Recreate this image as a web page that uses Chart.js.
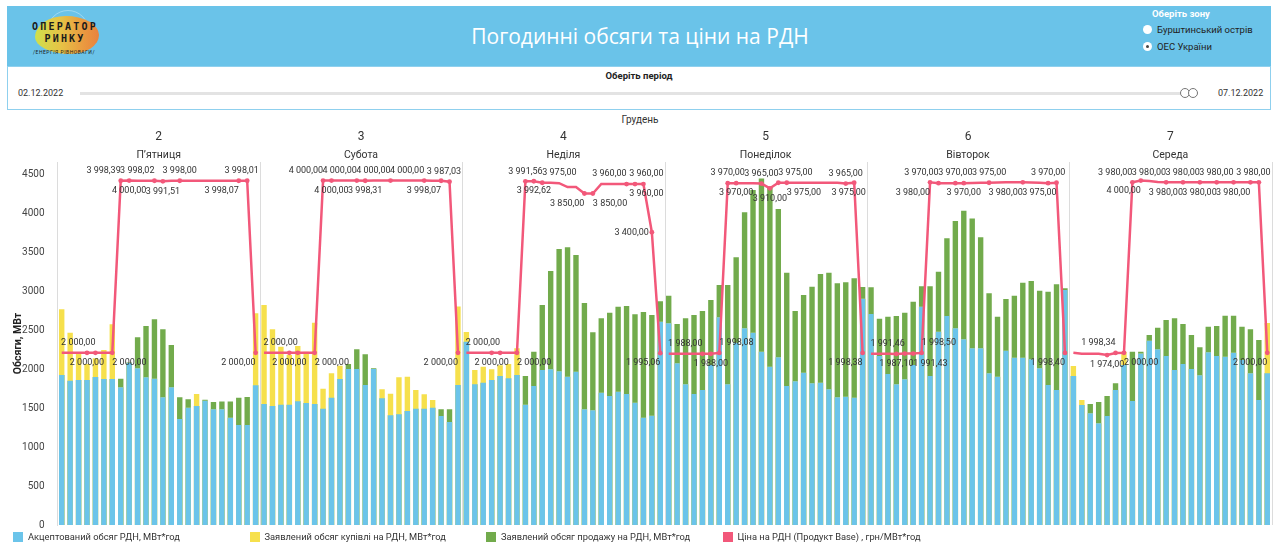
<!DOCTYPE html>
<html lang="uk">
<head>
<meta charset="utf-8">
<title>Погодинні обсяги та ціни на РДН</title>
<script src="https://cdn.jsdelivr.net/npm/chart.js@4.4.1/dist/chart.umd.min.js"></script>
<style>
  body { margin: 0; width: 1280px; height: 545px; overflow: hidden; background: #fff; position: relative;
         font-family: Roboto, "Noto Sans", sans-serif; color: #333; }
  .banner { position: absolute; left: 7px; top: 6px; width: 1264px; height: 60px; background: #6ac3e9; }
  .logo { position: absolute; left: 20px; top: 4px; width: 76px; height: 52px; }
  .logo .globe { position: absolute; left: 20px; top: 0; width: 40px; height: 40px; border-radius: 50%;
                 border: 1px solid rgba(255,255,255,0.35); }
  .logo .blob { position: absolute; left: 8px; top: 6px; width: 64px; height: 38px; border-radius: 48% 52% 45% 55% / 55% 50% 50% 45%;
                background: linear-gradient(90deg, #cfe04c 0%, #e6c346 40%, #ea9a40 75%, #e8823e 100%); }
  .logo .t1, .logo .t2 { position: absolute; left: 0; width: 76px; text-align: center; font-weight: bold;
                font-size: 10px; letter-spacing: 2.2px; color: #1b1b1b; font-family: "DejaVu Sans Mono", monospace; }
  .logo .t1 { top: 11px; } .logo .t2 { top: 23px; }
  .logo .t3 { position: absolute; left: 6px; top: 39px; font-size: 5px; color: #1b1b1b; letter-spacing: 0.5px; }
  .title { position: absolute; left: 0; width: 1280px; top: 22px; text-align: center; color: #fff;
           font-size: 21px; font-family: "Open Sans", sans-serif; }
  .zone { position: absolute; left: 1140px; top: 8px; font-size: 9.5px; }
  .zone .head { color: #fff; font-weight: bold; margin-left: 12px; }
  .zone .opt { position: relative; margin-top: 4px; height: 13px; line-height: 13px; padding-left: 17px; color: #222; }
  .zone .opt i { position: absolute; left: 3px; top: 2px; width: 9px; height: 9px; border-radius: 50%; background: #fff; }
  .zone .opt i.on::after { content: ""; position: absolute; left: 3px; top: 3px; width: 3px; height: 3px; border-radius: 50%; background: #444; }
  .period { position: absolute; left: 7px; top: 66px; width: 1262px; height: 42px; border: 1px solid #8fd0ee; background: #fff; }
  .period .head { position: absolute; left: 0; width: 100%; top: 3px; text-align: center; font-size: 9.5px; font-weight: bold; color: #222; }
  .period .d { position: absolute; top: 21px; font-size: 9px; color: #333; }
  .period .track { position: absolute; left: 72px; width: 1118px; top: 25px; height: 3px; background: #e3e3e3; }
  .period .knob { position: absolute; top: 21px; width: 8px; height: 8px; border: 1px solid #777; border-radius: 50%; background: #fff; }
  .month { position: absolute; left: 0; width: 1280px; top: 114px; text-align: center; font-size: 10px; color: #333; }
  #wrap { position: absolute; left: 0; top: 112px; width: 1280px; height: 433px; }
  #legend { position: absolute; left: 13px; top: 531px; display: flex; font-size: 9.3px; color: #333; }
  #legend div { width: 236.5px; display: flex; align-items: center; white-space: nowrap; }
  #legend span { display: inline-block; width: 10px; height: 10px; margin-right: 5px; }
</style>
</head>
<body>
<div class="banner">
  <div class="logo">
    <div class="globe"></div>
    <div class="blob"></div>
    <div class="t1">ОПЕРАТОР</div>
    <div class="t2">РИНКУ</div>
    <div class="t3">/ЕНЕРГІЯ РІВНОВАГИ/</div>
  </div>
</div>
<div class="title">Погодинні обсяги та ціни на РДН</div>
<div class="zone">
  <div class="head">Оберіть зону</div>
  <div class="opt"><i></i>Бурштинський острів</div>
  <div class="opt"><i class="on"></i>ОЕС України</div>
</div>
<div class="period">
  <div class="head">Оберіть період</div>
  <div class="d" style="left:10px">02.12.2022</div>
  <div class="track"></div>
  <div class="knob" style="left:1172px"></div>
  <div class="knob" style="left:1180px"></div>
  <div class="d" style="left:1210px">07.12.2022</div>
</div>
<div class="month">Грудень</div>
<div id="wrap"><canvas id="chart" width="1280" height="433"></canvas></div>
<div id="legend"></div>

<script>
// Days of the period (December 2022)
const days = ["2", "3", "4", "5", "6", "7"];
const weekdays = ["П’ятниця", "Субота", "Неділя", "Понеділок", "Вівторок", "Середа"];
const hours = [1, 2, 3, 4, 5, 6, 7, 8, 9, 10, 11, 12, 13, 14, 15, 16, 17, 18, 19, 20, 21, 22, 23, 24];
const volumeTicks = [0, 500, 1000, 1500, 2000, 2500, 3000, 3500, 4000, 4500];

// Accepted volume, MWh (one row per day)
const accepted = [
  1923, 1850, 1859, 1859, 1897, 1872, 1872, 1765, 2081, 2009, 1893, 1876, 1637, 1765, 1359, 1504, 1526, 1594, 1483, 1483, 1376, 1282, 1282, 1791,
  1551, 1526, 1542, 1542, 1586, 1564, 1551, 1491, 1632, 1872, 2000, 2000, 1795, 2000, 1624, 1406, 1419, 1461, 1491, 1491, 1504, 1397, 1320, 1795,
  2350, 1804, 1825, 1859, 1910, 1880, 1923, 1542, 1782, 1987, 1996, 1970, 1901, 1965, 1483, 1470, 1696, 1654, 1709, 1679, 1568, 1376, 1401, 2607,
  2586, 2073, 1804, 1679, 1731, 2051, 2663, 1804, 2338, 2521, 2466, 2222, 2030, 2150, 1782, 1842, 1953, 1817, 1825, 1740, 1637, 1645, 1632, 2900,
  2705, 2167, 1936, 1804, 1868, 2051, 2799, 1910, 2478, 2680, 2521, 2381, 2265, 2265, 1945, 1901, 2235, 2145, 2145, 2124, 2009, 1795, 1731, 3013,
  1910, 1538, 1432, 1304, 1397, 1731, 2051, 1590, 2200, 2363, 2252, 2167, 1987, 2064, 2000, 1919, 2214, 2167, 2158, 2209, 2115, 1945, 1603, 1945
];
// Declared purchase volume, MWh
const buyDeclared = [
  2765, 2465, 2201, 2064, 2137, 2244, 2573, 1765, 2081, 2009, 1893, 1876, 1637, 1765, 1359, 1504, 1679, 1594, 1483, 1483, 1376, 1282, 1282, 2714,
  2820, 2509, 2286, 2179, 2295, 2220, 2594, 1748, 1945, 2042, 2000, 2000, 1795, 2000, 1740, 1683, 1893, 1901, 1731, 1676, 1603, 1397, 1320, 2800,
  2474, 1987, 2030, 1996, 2047, 2064, 2265, 1542, 1782, 1987, 1996, 1970, 1901, 1965, 1483, 1470, 1696, 1654, 1709, 1679, 1568, 1376, 1401, 2607,
  2586, 2073, 1804, 1679, 1731, 2051, 2663, 1804, 2338, 2521, 2466, 2222, 2030, 2150, 1782, 1842, 1953, 1817, 1825, 1740, 1637, 1645, 1632, 2900,
  2705, 2167, 1936, 1804, 1868, 2051, 2799, 1910, 2478, 2680, 2521, 2381, 2265, 2265, 1945, 1901, 2235, 2145, 2145, 2124, 2009, 1795, 1731, 3013,
  2038, 1603, 1432, 1304, 1397, 1731, 2222, 1590, 2200, 2363, 2252, 2167, 1987, 2064, 2000, 1919, 2214, 2167, 2158, 2209, 2115, 1945, 1603, 2590
];
// Declared sale volume, MWh
const sellDeclared = [
  1923, 1850, 1859, 1859, 1897, 1872, 1872, 1876, 2085, 2406, 2551, 2637, 2509, 2308, 1637, 1611, 1526, 1605, 1577, 1583, 1583, 1632, 1640, 1791,
  1551, 1526, 1542, 1542, 1586, 1564, 1551, 1491, 1632, 1872, 2064, 2252, 2188, 2010, 1624, 1406, 1419, 1461, 1491, 1491, 1504, 1483, 1483, 1795,
  2350, 1804, 1825, 1859, 1910, 1880, 1923, 1910, 2222, 2820, 3256, 3538, 3560, 3461, 2846, 2470, 2650, 2722, 2799, 2808, 2701, 2731, 2692, 2870,
  2940, 2577, 2650, 2692, 2743, 2885, 3077, 3077, 3432, 4009, 4295, 4444, 4338, 4051, 3235, 2743, 2949, 3055, 3218, 3235, 3099, 3111, 3163, 3050,
  3047, 2645, 2671, 2680, 2722, 2863, 3060, 3060, 3248, 3675, 3897, 4030, 3930, 3689, 2970, 2671, 2897, 2940, 3107, 3128, 3004, 2991, 3086, 3034,
  1910, 1538, 1551, 1577, 1654, 1817, 2051, 2222, 2222, 2436, 2530, 2628, 2650, 2577, 2436, 2278, 2543, 2551, 2684, 2684, 2543, 2509, 2372, 1945
];
// Price, UAH/MWh (Base product)
const price = [
  2000, 2000, 2000, 2000, 2000, 2000, 2000, 3998.39, 4000, 3999, 3998, 3998.02, 3991.51, 3998, 3998, 3998, 3998, 3998, 3998, 3998, 3998, 3998.07, 3998.01, 2000,
  2000, 2000, 2000, 2000, 2000, 2000, 2000, 4000, 4000, 4000, 4000, 4000, 3998.31, 4000, 4000, 4000, 4000, 4000, 4000, 4000, 3999, 3998.07, 3987.03, 2000,
  2000, 2000, 2000, 2000, 2000, 2000, 2000, 3991.56, 3992.62, 3975, 3975, 3970, 3925, 3925, 3850, 3850, 3960, 3960, 3960, 3960, 3960, 3960, 3400, 1995.06,
  1990, 1990, 1990, 1990, 1988, 1988, 1998.08, 3970, 3970, 3970, 3968, 3965, 3910, 3975, 3975, 3975, 3975, 3975, 3975, 3975, 3975, 3965, 3975, 1998.38,
  1990, 1990, 1990, 1987.10, 1991.46, 1991.43, 1998.50, 3980, 3970, 3970, 3970, 3970, 3972, 3975, 3975, 3978, 3980, 3980, 3980, 3978, 3975, 3970, 3975, 1998.40,
  2000, 1990, 1990, 1990, 1974, 1998.34, 2000, 3980, 4000, 3995, 3985, 3980, 3980, 3980, 3980, 3980, 3980, 3980, 3980, 3980, 3980, 3980, 3980, 2000
];

// which price points get a label, per day: hour -> a/b/m (above/below/middle) + l/c/r (text left of, centred on, right of the point)
const labelPlacement = [
  { 4: "bc", 5: "al", 7: "br", 8: "al", 9: "bc", 12: "al", 13: "bc", 15: "ac", 22: "bl", 23: "ac", 24: "bl" },
  { 4: "bc", 5: "al", 7: "br", 8: "al", 9: "bc", 12: "al", 13: "bc", 16: "al", 20: "al", 22: "bl", 23: "ac", 24: "bl" },
  { 4: "bc", 5: "al", 7: "br", 8: "ac", 9: "bc", 10: "ar", 15: "bl", 16: "br", 20: "al", 21: "ar", 22: "br", 23: "ml", 24: "bl" },
  { 5: "al", 6: "bc", 7: "ar", 8: "ac", 9: "bc", 12: "ac", 13: "bc", 14: "ar", 15: "br", 22: "ac", 23: "bc", 24: "bl" },
  { 4: "bc", 5: "al", 6: "br", 7: "ar", 8: "bl", 9: "al", 11: "ac", 12: "bc", 15: "ac", 19: "bl", 22: "ac", 23: "bl", 24: "bl" },
  { 5: "bc", 6: "al", 7: "br", 8: "al", 9: "bl", 12: "al", 14: "bl", 16: "al", 18: "bl", 20: "al", 22: "bl", 23: "ac", 24: "bl" }
];

const labels = days.flatMap(d => hours.map(h => d + "-" + h));
const placeOf = i => labelPlacement[Math.floor(i / 24)][(i % 24) + 1] || "";

function fmtPrice(v) {
  const [int, dec] = v.toFixed(2).split(".");
  return int.replace(/\B(?=(\d{3})+(?!\d))/g, " ") + "," + dec;
}

Chart.defaults.font.family = "Roboto, 'Noto Sans', sans-serif";
Chart.defaults.color = "#444";

// separators, day headers and price labels
const panelsPlugin = {
  id: "panels",
  beforeDatasetsDraw(chart) {
    const { ctx, chartArea: area } = chart;
    const x = chart.scales.x;
    const half = (x.getPixelForValue(1) - x.getPixelForValue(0)) / 2;
    ctx.save();
    ctx.strokeStyle = "#dcdcdc";
    ctx.lineWidth = 1;
    ctx.fillStyle = "#333";
    ctx.textAlign = "center";
    ctx.textBaseline = "middle";
    days.forEach((d, i) => {
      const left = x.getPixelForValue(i * 24) - half;
      const right = x.getPixelForValue(i * 24 + 23) + half;
      const xr = Math.round(right) + 0.5;
      ctx.beginPath();
      ctx.moveTo(xr, area.top);
      ctx.lineTo(xr, area.bottom);
      ctx.stroke();
      ctx.font = "12px Roboto, sans-serif";
      ctx.fillText(d, (left + right) / 2, 25);
      ctx.font = "10.5px Roboto, sans-serif";
      ctx.fillText(weekdays[i], (left + right) / 2, 43);
    });
    ctx.restore();
  },
  afterDatasetsDraw(chart) {
    const { ctx } = chart;
    const x = chart.scales.x;
    const half = (x.getPixelForValue(1) - x.getPixelForValue(0)) / 2;
    const meta = chart.getDatasetMeta(3);
    ctx.save();
    ctx.font = "9px Roboto, sans-serif";
    ctx.fillStyle = "#333";
    ctx.textBaseline = "middle";
    ctx.textAlign = "left";
    meta.data.forEach((pt, i) => {
      const place = placeOf(i);
      if (!place) return;
      const txt = fmtPrice(price[i]);
      const w = ctx.measureText(txt).width;
      const day = Math.floor(i / 24);
      const pl = x.getPixelForValue(day * 24) - half;
      const pr = x.getPixelForValue(day * 24 + 23) + half;
      let tx = place[1] === "c" ? pt.x - w / 2 : place[1] === "l" ? pt.x - w : pt.x;
      let ty = pt.y;
      if (place[0] === "a") ty -= 10;
      else if (place[0] === "b") ty += 10;
      else tx -= 3;
      tx = Math.max(pl + 1, Math.min(pr - w - 1, tx));
      ctx.fillText(txt, tx, ty);
    });
    ctx.restore();
  }
};

const chart = new Chart(document.getElementById("chart"), {
  type: "bar",
  data: {
    labels: labels,
    datasets: [
      { label: "Акцептований обсяг РДН, МВт*год", data: accepted, backgroundColor: "#6bc4ea", order: 1 },
      { label: "Заявлений обсяг купівлі на РДН, МВт*год", data: buyDeclared, backgroundColor: "#f6e04c", order: 2 },
      { label: "Заявлений обсяг продажу на РДН, МВт*год", data: sellDeclared, backgroundColor: "#72ab4c", order: 3 },
      {
        type: "line",
        label: "Ціна на РДН (Продукт Base) , грн/МВт*год",
        data: price,
        yAxisID: "yPrice",
        borderColor: "#f2587a",
        backgroundColor: "#f2587a",
        borderWidth: 2.5,
        pointRadius: c => placeOf(c.dataIndex) ? 2.4 : 0,
        pointBorderWidth: 0,
        tension: 0,
        order: 0,
        segment: { borderColor: c => (c.p0DataIndex % 24 === 23 ? "transparent" : undefined) }
      }
    ]
  },
  options: {
    responsive: false,
    animation: false,
    layout: { padding: { top: 50, bottom: 20, right: 8.5, left: 0 } },
    datasets: { bar: { grouped: false, categoryPercentage: 1, barPercentage: 0.64 } },
    plugins: { legend: { display: false }, tooltip: { enabled: false } },
    scales: {
      x: { display: false },
      y: {
        min: 0,
        max: 4654,
        grid: { display: false },
        border: { display: true, color: "#dcdcdc" },
        afterBuildTicks: s => { s.ticks = volumeTicks.map(v => ({ value: v })); },
        ticks: { padding: 5, color: "#444", font: { size: 10 }, autoSkip: false, callback: v => String(v) },
        title: { display: true, text: "Обсяги, МВт", color: "#222", font: { size: 10.5, weight: "bold" }, padding: { top: 12, bottom: 0 } },
        afterFit: s => { s.width = 57.5; }
      },
      yPrice: { display: false, min: 0, max: 4216 }
    }
  },
  plugins: [panelsPlugin]
});

// legend with fixed-width columns as in the dashboard
document.getElementById("legend").innerHTML = chart.data.datasets
  .map(ds => `<div><span style="background:${ds.backgroundColor}"></span>${ds.label}</div>`)
  .join("");
</script>
</body>
</html>
